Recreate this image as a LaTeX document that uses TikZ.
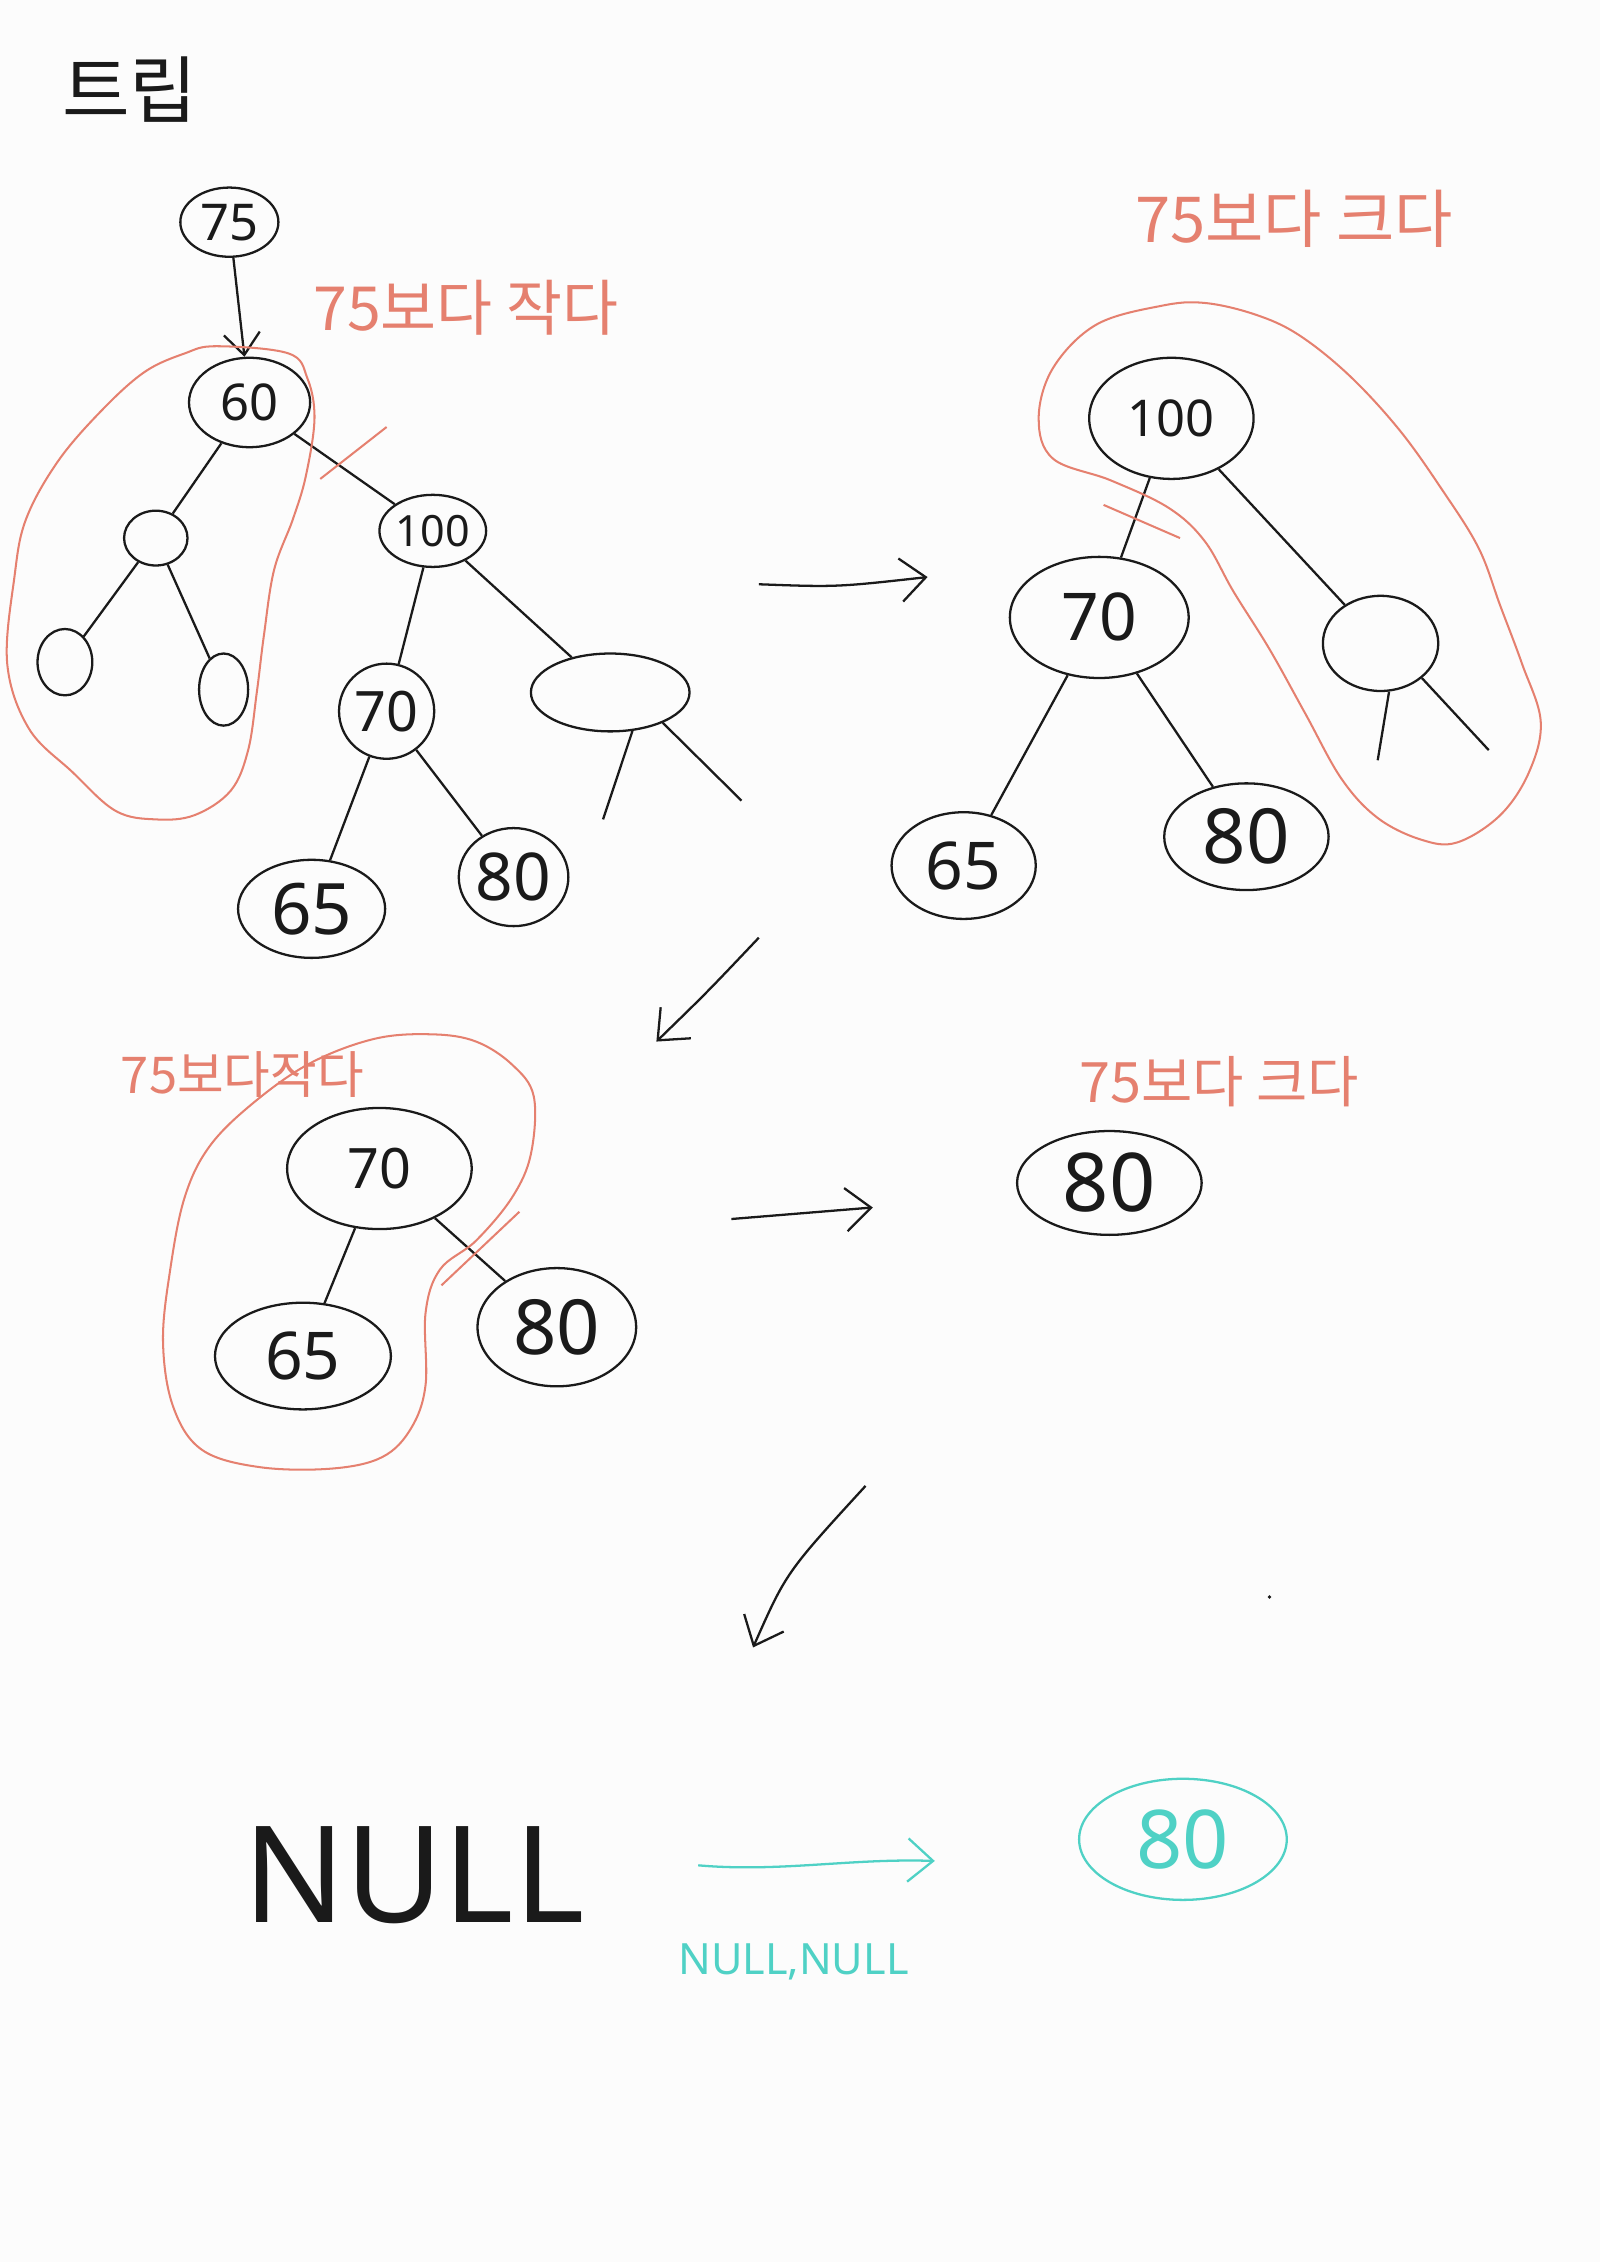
\documentclass[tikz,border=0pt]{standalone}
\usepackage{fontspec}
\setmainfont{Noto Sans}
\newfontfamily\kr{Noto Sans CJK KR}
\usetikzlibrary{shapes.geometric,arrows.meta}
\definecolor{pen}{HTML}{1A1A1A}
\definecolor{redpen}{HTML}{E5806F}
\definecolor{tealpen}{HTML}{4FD1C5}
\definecolor{paper}{HTML}{FCFCFC}
\tikzset{
  tn/.style={draw=pen, ellipse, line width=0.9pt, inner sep=0pt, text=pen},
  sz/.style 2 args={minimum width={#1*0.04cm}, minimum height={#2*0.04cm}},
  fs/.style={font=\fontsize{#1}{#1}\selectfont},
  kfs/.style={font=\kr\fontsize{#1}{#1}\selectfont},
  edge/.style={draw=pen, line width=0.9pt},
  arr/.style={draw=pen, line width=0.9pt, -{Straight Barb[length=0.35cm, width=0.6cm, line width=0.9pt]}},
  redline/.style={draw=redpen, line width=0.8pt},
  redtext/.style={text=redpen},
}
\begin{document}
\begin{tikzpicture}[x=0.02cm, y=-0.02cm]
\fill[paper] (0,0) rectangle (1109,1568);
\useasboundingbox (0,0) rectangle (1109,1568);

% title
\node[kfs=29, text=pen] (title) at (90,62) {트립};

% ---------- tree 1 ----------
\node[tn, sz={34}{24}, fs=20] (a75) at (159,154) {75};
\node[tn, sz={42}{31}, fs=20] (a60) at (173,279) {60};
\node[tn, sz={22}{19}] (aL) at (108,373) {};
\node[tn, sz={19}{23}] (aLL) at (45,459) {};
\node[tn, sz={17}{25}] (aLR) at (155,478) {};
\node[tn, sz={37}{25}, fs=17] (a100) at (300,368) {100};
\node[tn, sz={33}{33}, fs=22] (a70) at (268,493) {70};
\node[tn, sz={55}{27}] (aE) at (423,480) {};
\node[tn, sz={51}{34}, fs=28] (a65) at (216,630) {65};
\node[tn, sz={38}{34}, fs=26] (a80) at (356,608) {80};
\coordinate (aE1) at (418,568);
\coordinate (aE2) at (514,555);

\draw[edge, -{Straight Barb[length=0.3cm, width=0.5cm, line width=0.9pt]}] (a75) -- (a60);
\draw[edge] (a60) -- (aL);
\draw[edge] (aL) -- (aLL);
\draw[edge] (aL) -- (aLR);
\draw[edge] (a60) -- (a100);
\draw[edge] (a100) -- (a70);
\draw[edge] (a100) -- (aE);
\draw[edge] (a70) -- (a65);
\draw[edge] (a70) -- (a80);
\draw[edge] (aE.-60) -- (aE1);
\draw[edge] (aE.-30) -- (aE2);

\node[kfs=24, redtext] (r1) at (323,213) {75보다 작다};
\draw[redline] (222,332) -- (268,296);
\draw[redline] plot[smooth cycle, tension=0.6] coordinates {
  (150,240) (200,245) (213,262) (218,290) (212,330) (203,360) (190,395)
  (183,440) (178,480) (172,520) (160,548) (135,565) (108,568) (80,562)
  (50,535) (20,505) (5,460) (10,400) (18,360) (40,320) (70,285) (100,258) (128,245)};

% arrow 1
\coordinate (r1s) at (526,405);
\coordinate (r1e) at (643,400);
\draw[arr] (r1s) .. controls (580,407) .. (r1e);

% ---------- tree 2 ----------
\node[kfs=25, redtext] (r2) at (897,152) {75보다 크다};
\node[tn, sz={57}{42}, fs=20] (b100) at (812,290) {100};
\node[tn, sz={62}{42}, fs=26] (b70) at (762,428) {70};
\node[tn, sz={50}{37}, fs=26] (b65) at (668,600) {65};
\node[tn, sz={57}{37}, fs=30] (b80) at (864,580) {80};
\node[tn, sz={40}{33}] (bE) at (957,446) {};
\coordinate (bE1) at (955,527);
\coordinate (bE2) at (1032,520);
\draw[edge] (b100) -- (b70);
\draw[edge] (b70) -- (b65);
\draw[edge] (b70) -- (b80);
\draw[edge] (b100) -- (bE);
\draw[edge] (bE.-80) -- (bE1);
\draw[edge] (bE.-40) -- (bE2);
\draw[redline] (765,350) -- (818,373);
\draw[redline] plot[smooth cycle, tension=0.6] coordinates {
  (805,212) (835,210) (870,218) (900,232) (935,260) (970,298) (1000,340)
  (1025,380) (1040,420) (1055,460) (1068,500) (1060,535) (1040,565) (1010,584)
  (985,582) (955,567) (930,540) (905,495) (880,450) (855,410) (835,375)
  (810,352) (770,333) (730,318) (720,290) (730,255) (760,225)};

% arrow 2 (down-left)
\coordinate (d1s) at (526,650);
\coordinate (d1e) at (455,722);
\draw[arr] (d1s) .. controls (490,688) .. (d1e);

% ---------- tree 3 ----------
\node[kfs=20, redtext] (r3) at (168,745) {75보다작다};
\node[tn, sz={64}{42}, fs=22] (c70) at (263,810) {70};
\node[tn, sz={61}{37}, fs=26] (c65) at (210,940) {65};
\node[tn, sz={55}{41}, fs=30] (c80) at (386,920) {80};
\draw[edge] (c70) -- (c65);
\draw[edge] (c70) -- (c80);
\draw[redline] (306,891) -- (360,840);
\draw[redline] plot[smooth cycle, tension=0.6] coordinates {
  (300,717) (330,722) (355,738) (370,760) (368,800) (355,830) (330,860)
  (305,880) (295,910) (295,960) (285,990) (265,1010) (230,1018) (180,1017)
  (140,1005) (120,975) (113,930) (118,880) (128,830) (145,795) (175,765)
  (215,737) (260,720)};

% arrow 3
\coordinate (r2s) at (507,845);
\coordinate (r2e) at (605,837);
\draw[arr] (r2s) -- (r2e);

\node[kfs=22, redtext] (r4) at (845,750) {75보다 크다};
\node[tn, sz={64}{36}, fs=32] (d80) at (769,820) {80};

% arrow 4 (down-left)
\coordinate (d2s) at (600,1030);
\coordinate (d2e) at (522,1142);
\draw[arr] (d2s) .. controls (545,1090) .. (d2e);

\fill[pen] (880,1107) circle (1.3);

% ---------- bottom ----------
\node[fs=53, text=pen] (null) at (287,1300) {NULL};
\node[tn, draw=tealpen, text=tealpen, sz={72}{42}, fs=32] (e80) at (820,1275) {80};
\coordinate (t1s) at (484,1293);
\coordinate (t1e) at (648,1290);
\draw[draw=tealpen, line width=0.9pt, -{Straight Barb[length=0.35cm, width=0.6cm, line width=0.9pt]}]
  (t1s) .. controls (540,1298) and (590,1288) .. (t1e);
\node[fs=17, text=tealpen] (nn) at (550,1360) {NULL,NULL};
\end{tikzpicture}
\end{document}
